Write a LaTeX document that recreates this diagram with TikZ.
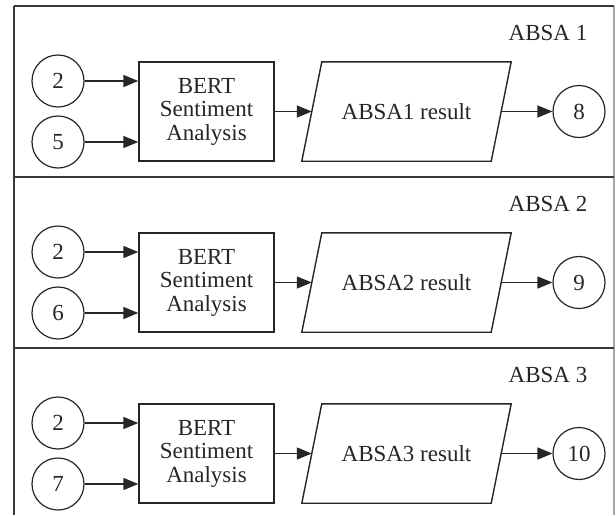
\documentclass[tikz,border=0pt]{standalone}
\usepackage{fontspec}
\setmainfont{Liberation Serif}
\usetikzlibrary{arrows.meta}
\definecolor{ink}{HTML}{262626}
\definecolor{frame}{HTML}{383838}
\tikzset{
  every node/.style={text=ink, font=\fontsize{23}{23.5}\selectfont},
  refcircle/.style={circle, draw=ink, line width=1.2pt, minimum size=52pt, inner sep=0pt},
  processbox/.style={rectangle, draw=ink, line width=1.4pt, minimum width=135pt, minimum height=99pt,
    align=center, inner sep=0pt},
  databox/.style={rectangle, minimum width=209pt, minimum height=99pt, inner sep=0pt},
  dataedge/.style={draw=ink, line width=1.4pt, line join=miter},
  flow/.style={draw=ink, line width=1.4pt, -{Triangle[length=15pt,width=12pt]}},
  panelline/.style={draw=frame, line width=1.7pt},
}
\begin{document}
\begin{tikzpicture}[x=1pt, y=-1pt]
  \useasboundingbox (0,0) rectangle (616,515);
  \fill[white] (0,0) rectangle (616,515);
  % outer frame
  \draw[panelline] (14,6) -- (14,515);
  \draw[draw=gray!70, line width=1.2pt] (614,6) -- (614,515);
  \foreach \k/\T/\inb/\outn in {1/6/5/8, 2/177/6/9, 3/348/7/10}{
    \draw[panelline] (14,\T) -- (614,\T);
    \node (lab\k) at (548,\T+27) {ABSA \k};
    \node[refcircle] (in\k a) at (58,\T+75) {2};
    \node[refcircle] (in\k b) at (58,\T+136) {\inb};
    \node[processbox] (bert\k) at (206.5,\T+105.5) {BERT\\Sentiment\\Analysis};
    % parallelogram for the result, slanted 20pt over its height
    \node[databox] (res\k) at (406.5,\T+105.5) {ABSA\k\ result};
    \draw[dataedge] ([xshift=20pt]res\k.north west) -- (res\k.north east)
      -- ([xshift=-20pt]res\k.south east) -- (res\k.south west) -- cycle;
    \coordinate (res\k in) at ([xshift=10pt]res\k.west);
    \coordinate (res\k out) at ([xshift=-10pt]res\k.east);
    \node[refcircle] (out\k) at (579,\T+105.5) {\outn};
    \draw[flow] (in\k a.east) -- (in\k a.east -| bert\k.west);
    \draw[flow] (in\k b.east) -- (in\k b.east -| bert\k.west);
    \draw[flow] (bert\k.east) -- (res\k in);
    \draw[flow] (res\k out) -- (out\k.west);
  }
\end{tikzpicture}
\end{document}
